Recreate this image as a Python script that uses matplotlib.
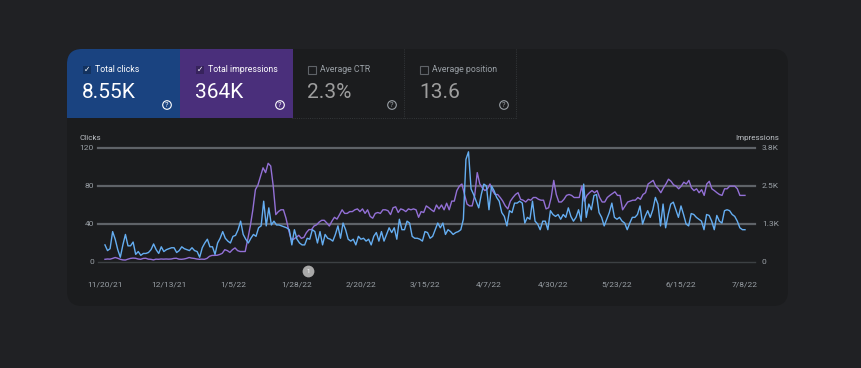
import numpy as np
import matplotlib.pyplot as plt
import matplotlib.dates as mdates
from matplotlib.patches import FancyBboxPatch, Rectangle, Circle
from datetime import datetime, timedelta

W, H = 861, 368

# summary tiles
tile_labels = ['Total clicks', 'Total impressions', 'Average CTR', 'Average position']
tile_values = ['8.55K', '364K', '2.3%', '13.6']
tile_active = [True, True, False, False]
tile_colors = ['#1a4380', '#4a2f7b', None, None]

# daily clicks (left axis)
clicks = [
    18, 12, 14, 32, 24, 13, 5, 18, 29, 17,
    17, 21, 8, 11, 7, 9, 9, 10, 13, 19,
    13, 9, 16, 11, 13, 14, 15, 15, 10, 12,
    16, 14, 13, 12, 15, 12, 11, 5, 15, 20,
    24, 16, 16, 8, 20, 25, 32, 25, 22, 20,
    27, 28, 34, 43, 29, 24, 20, 25, 29, 27,
    36, 38, 64, 38, 57, 39, 43, 39, 39, 38,
    37, 36, 34, 18, 34, 24, 20, 18, 18, 25,
    24, 34, 32, 20, 32, 18, 29, 25, 24, 22,
    29, 38, 25, 41, 34, 24, 22, 24, 18, 27,
    24, 25, 22, 24, 18, 27, 31, 22, 32, 22,
    29, 36, 31, 36, 24, 45, 34, 34, 43, 41,
    27, 25, 25, 24, 22, 32, 31, 25, 27, 34,
    41, 36, 41, 29, 34, 32, 29, 31, 32,
    34, 45, 108, 116, 77, 71, 64, 57, 71, 82,
    80, 55, 80, 75, 68, 64, 52, 48, 38, 54,
    52, 62, 62, 64, 62, 41, 47, 45, 64, 43,
    40, 34, 43, 43, 34, 54, 50, 48, 50, 45,
    50, 47, 57, 48, 43, 47, 55, 43, 82, 47,
    61, 55, 70, 71, 52, 47, 38, 45, 52, 62,
    47, 45, 47, 43, 41, 34, 41, 47, 47, 50,
    59, 40, 48, 54, 47, 55, 68, 61, 38, 61,
    36, 50, 61, 63, 55, 47, 59, 50, 40, 38,
    51, 50, 47, 45, 43, 34, 50, 49, 43, 34,
    49, 43, 41, 54, 55, 54, 50, 48, 43, 36,
    34, 34,
]

# daily impressions (right axis)
impressions = [
    90, 100, 95, 120, 150, 125, 90, 70, 65, 95,
    120, 130, 125, 100, 90, 120, 125, 95, 90, 70,
    95, 90, 100, 95, 100, 95, 100, 120, 125, 95,
    90, 100, 120, 150, 130, 120, 100, 90, 95, 90, 120,
    190, 220, 220, 225, 250, 290, 410, 380, 320, 410, 470, 380, 350, 350, 350,
    760, 1200, 1740, 2410, 2570, 2850, 3140, 2980, 3290, 3200,
    2530, 1580, 1680, 1740, 1740, 1460, 1080, 760, 760, 820,
    890, 790, 820, 980, 1080, 1080, 1200, 1240, 1330, 1390,
    1390, 1300, 1200, 1360, 1490, 1430, 1580, 1740, 1620, 1620,
    1680, 1680, 1740, 1770, 1680, 1770, 1620, 1740, 1520, 1460,
    1620, 1650, 1620, 1740, 1740, 1710, 1580, 1810, 1840, 1650,
    1770, 1740, 1680, 1770, 1740, 1770, 1740, 1490, 1680, 1650,
    1870, 1810, 1740, 1680, 1900, 1770, 1900, 1740, 1960, 1740,
    2030, 2030,
    2380, 2530, 2600, 2250, 1930, 1870, 1870, 2220, 2980, 2600,
    2470, 2380, 2440, 2600, 2380, 2250, 2250, 2150, 2030, 1870,
    1770, 2030, 2150, 2250, 2310, 2090, 2060, 2000, 2090, 2060,
    2150, 2150, 2090, 2060, 2060, 1770, 1810, 2150, 2720, 2250,
    2000, 2000, 2090, 2220, 2250, 2220, 2150, 2150, 2150, 2530,
    2030, 2220, 2310, 2380, 2310, 2380, 2150, 2000, 2000, 2150,
    2220, 2280, 2340, 2220, 2220, 1740, 1870, 2000, 2030, 2060,
    2060, 2150, 2090, 2250, 2310, 2600, 2660, 2720, 2530, 2440,
    2310, 2470, 2600, 2760, 2690, 2570, 2530, 2440, 2530, 2660,
    2600, 2720, 2470, 2380, 2440, 2310, 2410, 2220, 2600, 2690,
    2440, 2380, 2310, 2250, 2220, 2440, 2440, 2530, 2530, 2530,
    2440, 2220, 2220, 2220,
]

start = datetime(2021, 11, 20)
n_days = 230
tick_dates = [start + timedelta(days=23 * i) for i in range(11)]
tick_labels = [f"{d.month}/{d.day}/{d.strftime('%y')}" for d in tick_dates]
click_ticks = [0, 40, 80, 120]
impr_ticks = [0, 3800 / 3, 7600 / 3, 3800]
impr_tick_labels = ['0', '1.3K', '2.5K', '3.8K']
annotation_date = start + timedelta(days=73)

plt.rcParams['font.family'] = ['Roboto', 'DejaVu Sans']

fig = plt.figure(figsize=(W / 100, H / 100), dpi=100)
fig.patch.set_facecolor('#202124')

# background layer in pixel coordinates
bg = fig.add_axes([0, 0, 1, 1])
bg.set_xlim(0, W)
bg.set_ylim(H, 0)
bg.axis('off')

card = FancyBboxPatch((67, 49), 721, 257, boxstyle='round,pad=0,rounding_size=15',
                      fc='#1b1c1e', ec='none')
bg.add_patch(card)

tile_x = [67, 180, 292, 404]
tile_w = 112
for i in range(4):
    x0 = tile_x[i]
    if tile_colors[i]:
        r = Rectangle((x0, 49), tile_w + 1, 69, fc=tile_colors[i], ec='none')
        bg.add_patch(r)
        r.set_clip_path(card)
        tc, nc = 'white', 'white'
        bg.add_patch(Rectangle((x0 + 16, 65.5), 8, 8, fc=(0, 0, 0, 0.25), ec='none'))
        bg.text(x0 + 20, 69.8, '\u2713', color='white', fontsize=5.5, ha='center', va='center',
                family=['DejaVu Sans'])
    else:
        tc, nc = '#9aa0a6', '#9e9e9e'
        bg.add_patch(Rectangle((x0 + 16, 65.5), 8, 8, fc='none', ec='#5f6368', lw=0.8))
    bg.text(x0 + 28, 69.5, tile_labels[i], color=tc, fontsize=6.3, va='center', ha='left')
    bg.text(x0 + 15, 92, tile_values[i], color=nc, fontsize=15, va='center', ha='left')
    bg.add_patch(Circle((x0 + 100, 105), 4.3, fc='none', ec=tc, lw=0.8))
    bg.text(x0 + 100, 105.3, '?', color=tc, fontsize=5.5, ha='center', va='center')

for x in [404, 516]:
    bg.plot([x, x], [49, 118], color='#3c4043', lw=0.6, ls=':')
bg.plot([292, 516], [118, 118], color='#3c4043', lw=0.6, ls=':')

bg.text(79, 138, 'Clicks', color='#bdc1c6', fontsize=5.8, ha='left', va='center')
bg.text(779, 138, 'Impressions', color='#bdc1c6', fontsize=5.8, ha='right', va='center')

# chart
ax = fig.add_axes([98 / W, 1 - 262 / H, (755 - 98) / W, (262 - 148) / H])
ax2 = ax.twinx()
ax.set_zorder(ax2.get_zorder() + 1)
ax.patch.set_visible(False)

d0 = mdates.date2num(start)
click_x = d0 + np.linspace(0, n_days, len(clicks))
impr_x = d0 + np.linspace(0, n_days, len(impressions))

for t in click_ticks:
    if t == 0:
        ax2.axhline(0, color='#3c4043', lw=1.0, clip_on=False)
    else:
        ax2.axhline(t * 3800 / 120, color='#5f6368', lw=1.6, clip_on=False)

ax2.plot(impr_x, impressions, color='#9370d6', lw=1.0)
ax.plot(click_x, clicks, color='#65aef2', lw=1.0)

ax.set_xlim(d0 - 2.5, d0 + 233.6)
ax.set_ylim(0, 120)
ax2.set_ylim(0, 3800)
ax.set_yticks(click_ticks)
ax2.set_yticks(impr_ticks)
ax2.set_yticklabels(impr_tick_labels)
ax.set_xticks(mdates.date2num(tick_dates))
ax.set_xticklabels(tick_labels)
for a in (ax, ax2):
    for s in a.spines.values():
        s.set_visible(False)
ax.tick_params(axis='y', length=0, pad=3, labelsize=6, labelcolor='#9aa0a6')
ax2.tick_params(axis='y', length=0, pad=5, labelsize=6, labelcolor='#9aa0a6')
ax.tick_params(axis='x', length=0, pad=14, labelsize=6, labelcolor='#9aa0a6')

# annotation marker
ax.plot([mdates.date2num(annotation_date)], [-0.08], marker='o', ms=8.5, color='#a8a8a8',
        mec='none', transform=ax.get_xaxis_transform(), clip_on=False)
ax.text(mdates.date2num(annotation_date), -0.08, '1', color='white', fontsize=4.5,
        ha='center', va='center', transform=ax.get_xaxis_transform())

fig.savefig('out.png', dpi=100, facecolor=fig.get_facecolor())
